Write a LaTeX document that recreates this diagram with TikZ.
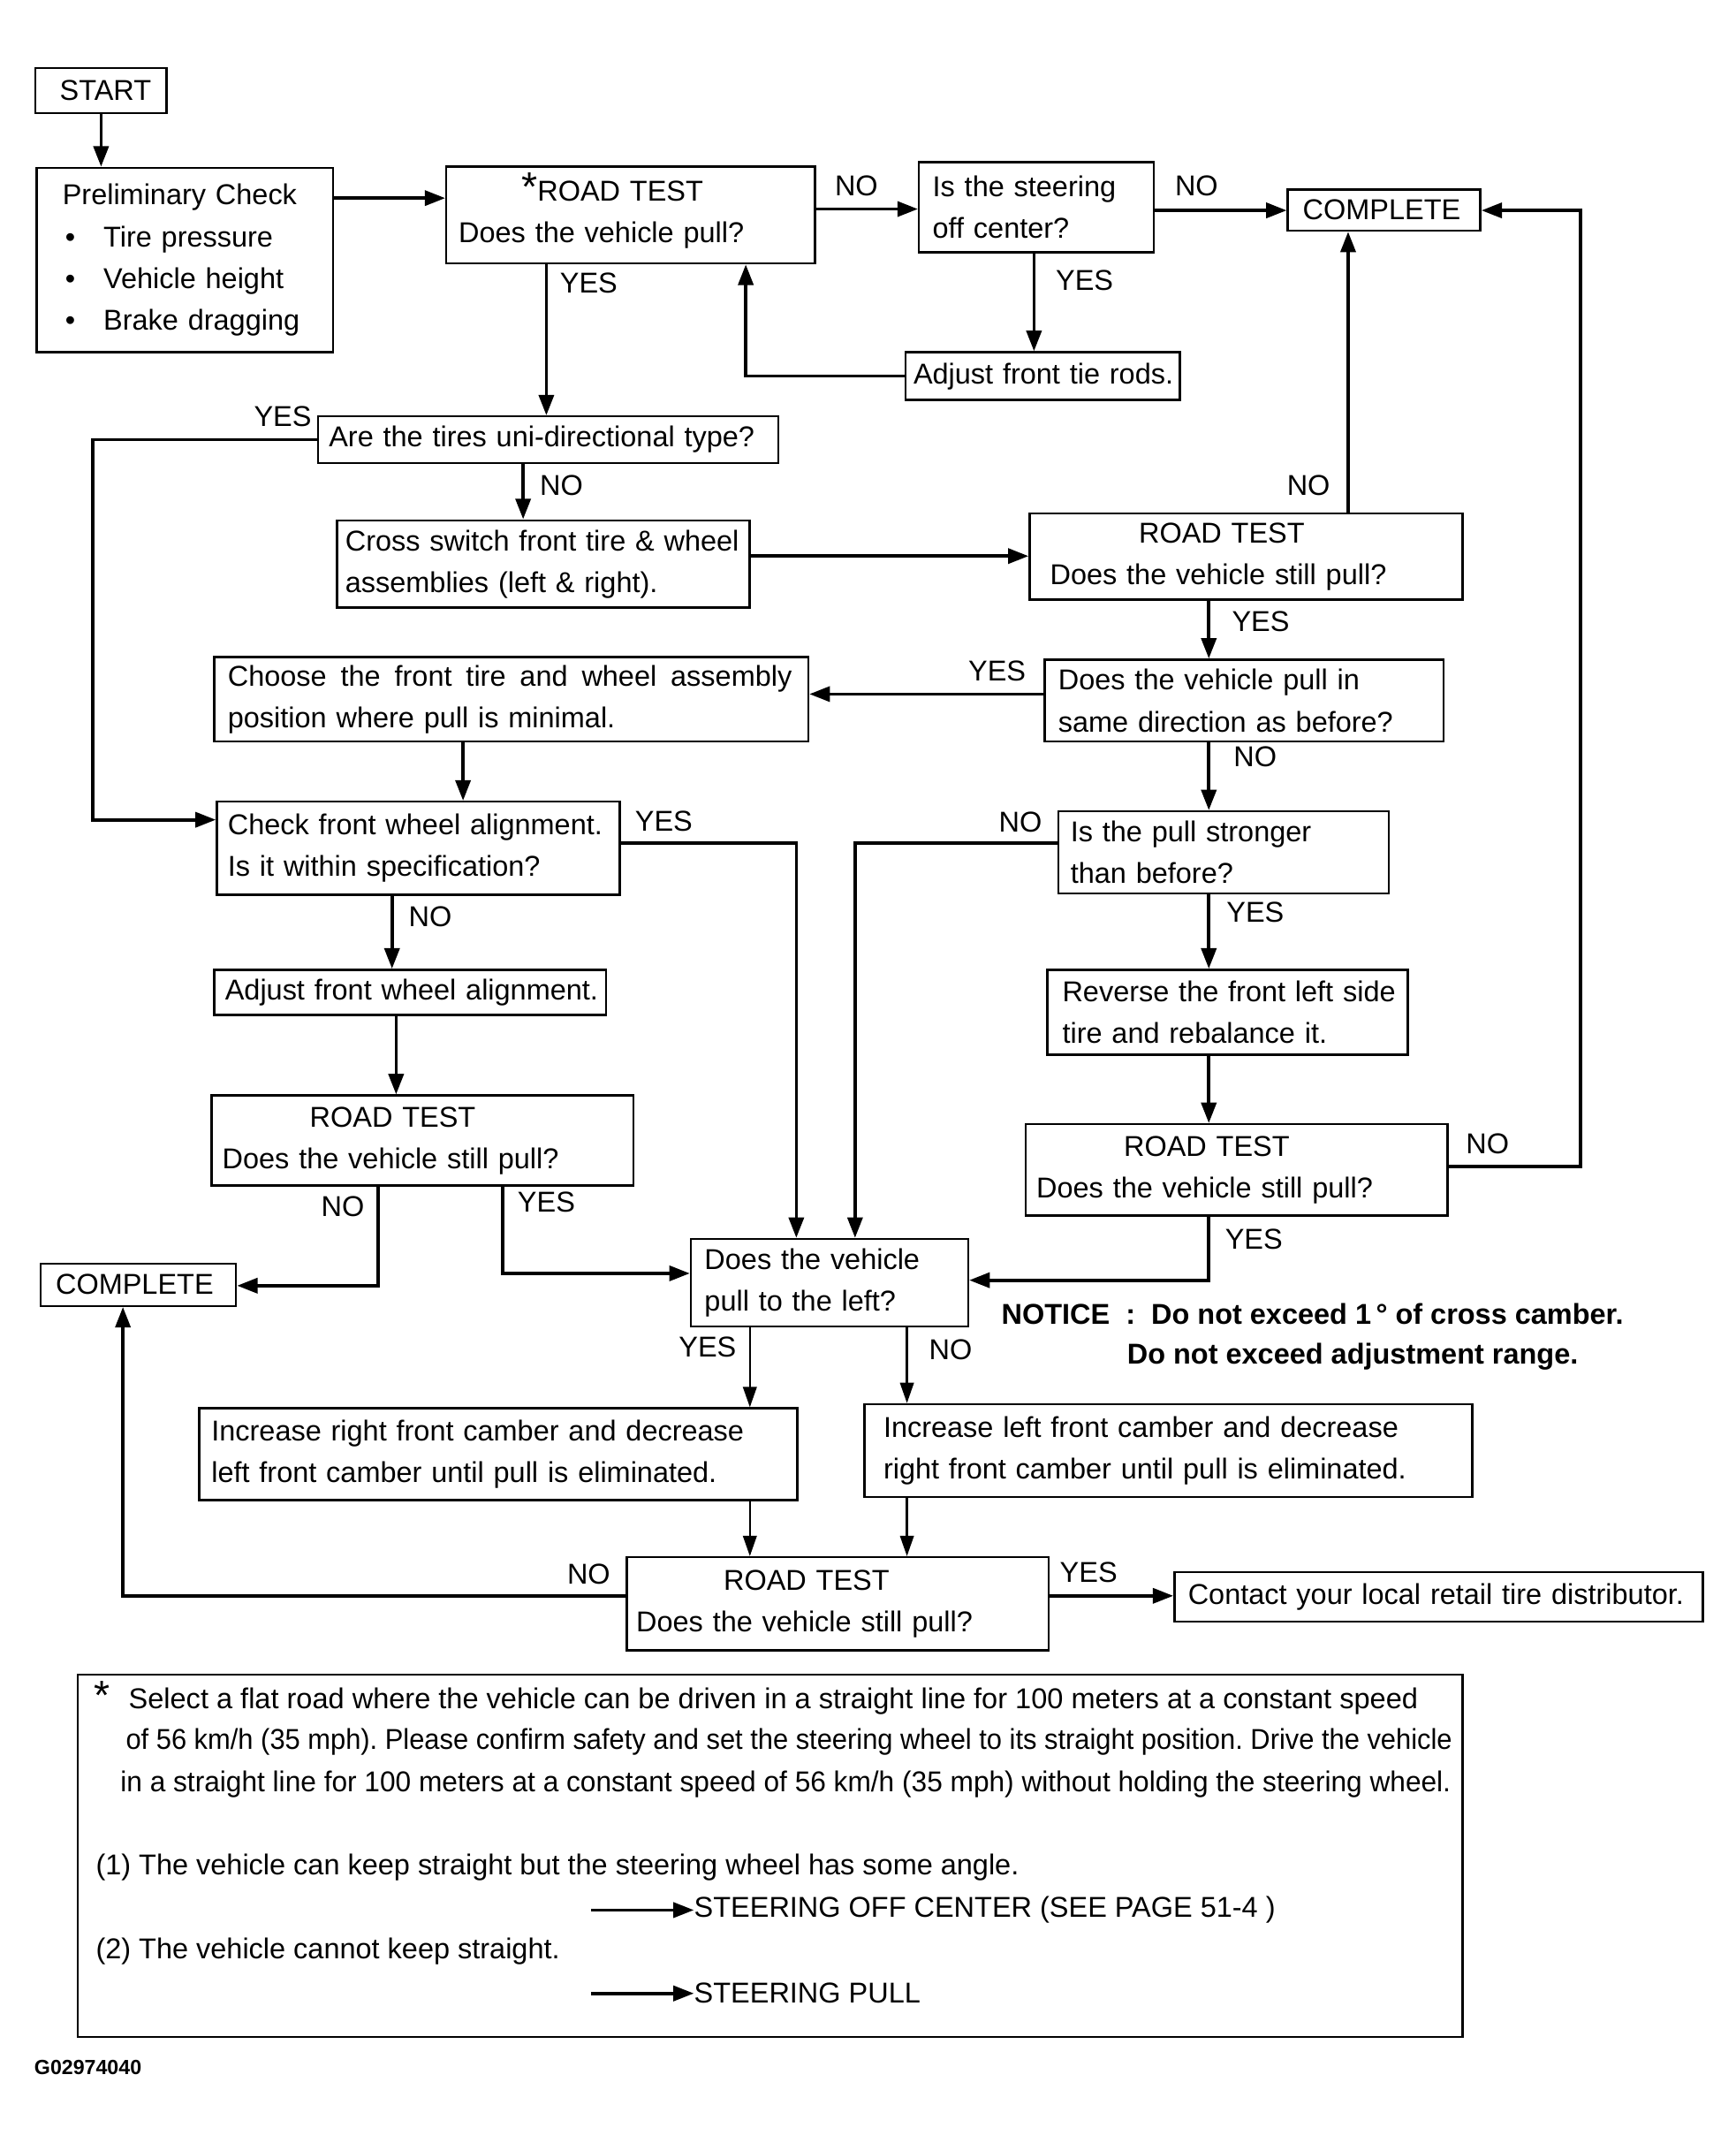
\documentclass[tikz,border=0pt]{standalone}
\usepackage{fontspec}
\usepackage{graphicx}
\setmainfont{Liberation Sans}
\usetikzlibrary{arrows.meta}
\frenchspacing

\newcommand\boxfont{\fontsize{21}{30.5}\selectfont}
\newcommand\starfont{\fontsize{30}{30}\selectfont}
\newcommand\codefont{\fontsize{15}{18}\selectfont\bfseries}

\tikzset{
  box/.style={draw, line width=1.6pt, anchor=north west, align=left, inner ysep=0pt, font=\boxfont},
  txt/.style={anchor=west, inner sep=0pt, font=\boxfont},
  lbl/.style={inner sep=0pt, font=\boxfont},
  arr/.style={line width=2.4pt, -{Triangle[length=15pt,width=11pt]}},
  thinarr/.style={line width=1.6pt, -{Triangle[length=15pt,width=10pt]}},
  ln/.style={line width=2.4pt}
}

\begin{document}
\begin{tikzpicture}[x=1pt,y=-1pt]
\useasboundingbox (0,0) rectangle (1270.7,1568.5);

% Boxes of the flow chart
\node[box, text width=60pt, inner xsep=18pt, minimum height=33pt] (start) at (25,49) {\mbox{START}};
\node[box, text width=179pt, inner xsep=19pt, minimum height=135pt] (prelim) at (26,122)
  {Preliminary Check\\
   \makebox[30pt][l]{\hspace{2pt}•}Tire pressure\\
   \makebox[30pt][l]{\hspace{2pt}•}Vehicle height\\
   \makebox[30pt][l]{\hspace{2pt}•}Brake dragging};
\node[box, text width=252pt, inner xsep=9pt, minimum height=71pt] (road1) at (326,121)
  {\hspace*{46pt}\smash{\starfont *}ROAD TEST\\Does the vehicle pull?};
\node[box, text width=152pt, inner xsep=10pt, minimum height=66pt] (steer) at (672,118)
  {Is the steering\\off center?};
\node[box, text width=119pt, inner xsep=11pt, minimum height=30pt] (done1) at (942,138) {\mbox{COMPLETE}};
\node[box, text width=189pt, inner xsep=6pt, minimum height=35pt] (tierods) at (662,257)
  {\mbox{Adjust front tie rods.}};
\node[box, text width=321pt, inner xsep=8pt, minimum height=34pt] (unidir) at (232,304)
  {\mbox{Are the tires uni-directional type?}};
\node[box, text width=290pt, inner xsep=6pt, minimum height=64pt] (cross) at (246,380)
  {\mbox{Cross switch front tire \& wheel}\\assemblies (left \& right).};
\node[box, text width=287pt, inner xsep=15pt, minimum height=63pt] (road2) at (753,375)
  {\hspace*{65pt}ROAD TEST\\Does the vehicle still pull?};
\node[box, text width=415pt, inner xsep=10pt, minimum height=62pt] (choose) at (156,480)
  {\hbox to 413pt{Choose\hfill the\hfill front\hfill tire\hfill and\hfill wheel\hfill assembly}\\position where pull is minimal.};
\node[box, text width=272pt, inner xsep=10pt, minimum height=60pt] (samedir) at (764,482)
  {Does the vehicle pull in\\same direction as before?};
\node[box, text width=279pt, inner xsep=8pt, minimum height=68pt] (check) at (158,586)
  {\mbox{Check front wheel alignment.}\\Is it within specification?};
\node[box, text width=224pt, inner xsep=9pt, minimum height=60pt] (stronger) at (774,593)
  {Is the pull stronger\\than before?};
\node[box, text width=271pt, inner xsep=8pt, minimum height=33pt] (adjalign) at (156,709)
  {\mbox{Adjust front wheel alignment.}};
\node[box, text width=242pt, inner xsep=11pt, minimum height=62pt] (reverse) at (766,709)
  {\mbox{Reverse the front left side}\\tire and rebalance it.};
\node[box, text width=293pt, inner xsep=8pt, minimum height=66pt] (road3) at (154,801)
  {\hspace*{64pt}ROAD TEST\\Does the vehicle still pull?};
\node[box, text width=293pt, inner xsep=8pt, minimum height=67pt] (road4) at (750,822)
  {\hspace*{64pt}ROAD TEST\\Does the vehicle still pull?};
\node[box, text width=121pt, inner xsep=11pt, minimum height=31pt] (done2) at (29,924) {\mbox{COMPLETE}};
\node[box, text width=183pt, inner xsep=10pt, minimum height=64pt] (left) at (505,906)
  {Does the vehicle\\pull to the left?};
\node[box, text width=420pt, inner xsep=9pt, minimum height=67pt] (incright) at (145,1030)
  {Increase right front camber and decrease\\left front camber until pull is eliminated.};
\node[box, text width=417pt, inner xsep=14pt, minimum height=68pt] (incleft) at (632,1027)
  {Increase left front camber and decrease\\right front camber until pull is eliminated.};
\node[box, text width=295pt, inner xsep=7pt, minimum height=68pt] (road5) at (458,1139)
  {\hspace*{64pt}ROAD TEST\\Does the vehicle still pull?};
\node[box, text width=367pt, inner xsep=10pt, minimum height=36pt] (contact) at (859,1150)
  {\mbox{Contact your local retail tire distributor.}};

% Notice
\node[txt, font=\boxfont\bfseries] (notice1) at (733,962) {NOTICE\ \ :\ \ Do not exceed 1\,° of cross camber.};
\node[txt, font=\boxfont\bfseries] (notice2) at (825,993) {Do not exceed adjustment range.};

% Connectors
\draw[arr] (74,0 |- start.south) -- (74,0 |- prelim.north);
\draw[arr] (prelim.east |- 0,145) -- (road1.west |- 0,145);
\draw[arr] (road1.east |- 0,153) -- (steer.west |- 0,153);
\draw[arr] (steer.east |- 0,154) -- (done1.west |- 0,154);
\draw[arr] (757,0 |- steer.south) -- (757,0 |- tierods.north);
\draw[arr] (tierods.west) -| (546,0 |- road1.south);
\draw[arr] (400,0 |- road1.south) -- (400,0 |- unidir.north);
\draw[arr] (unidir.west) -| (68,600) -- (check.west |- 0,600);
\draw[arr] (383,0 |- unidir.south) -- (383,0 |- cross.north);
\draw[arr] (cross.east |- 0,407) -- (road2.west |- 0,407);
\draw[arr] (987,0 |- road2.north) -- (987,0 |- done1.south);
\draw[arr] (885,0 |- road2.south) -- (885,0 |- samedir.north);
\draw[arr] (samedir.west |- 0,508) -- (choose.east |- 0,508);
\draw[arr] (339,0 |- choose.south) -- (339,0 |- check.north);
\draw[arr] (885,0 |- samedir.south) -- (885,0 |- stronger.north);
\draw[arr] (check.east |- 0,617) -| (583,0 |- left.north);
\draw[arr] (287,0 |- check.south) -- (287,0 |- adjalign.north);
\draw[arr] (stronger.west |- 0,617) -| (626,0 |- left.north);
\draw[arr] (885,0 |- stronger.south) -- (885,0 |- reverse.north);
\draw[arr] (290,0 |- adjalign.south) -- (290,0 |- road3.north);
\draw[arr] (885,0 |- reverse.south) -- (885,0 |- road4.north);
\draw[arr] (road4.east |- 0,854) -| (1157,154) -- (done1.east |- 0,154);
\draw[arr] (885,0 |- road4.south) |- (left.east |- 0,937);
\draw[arr] (277,0 |- road3.south) |- (done2.east |- 0,941);
\draw[arr] (368,0 |- road3.south) |- (left.west |- 0,932);
\draw[thinarr] (549,0 |- left.south) -- (549,0 |- incright.north);
\draw[thinarr] (664,0 |- left.south) -- (664,0 |- incleft.north);
\draw[thinarr] (549,0 |- incright.south) -- (549,0 |- road5.north);
\draw[thinarr] (664,0 |- incleft.south) -- (664,0 |- road5.north);
\draw[arr] (road5.west |- 0,1168) -| (90,0 |- done2.south);
\draw[arr] (road5.east |- 0,1168) -- (contact.west |- 0,1168);

% YES / NO labels
\node[lbl] (n1) at (627,136) {NO};
\node[lbl] (n2) at (876,136) {NO};
\node[lbl] (y1) at (794,205) {YES};
\node[lbl] (y2) at (431,207) {YES};
\node[lbl] (y3) at (207,305) {YES};
\node[lbl] (n3) at (411,355) {NO};
\node[lbl] (n4) at (958,355) {NO};
\node[lbl] (y4) at (923,455) {YES};
\node[lbl] (y5) at (730,491) {YES};
\node[lbl] (n5) at (919,554) {NO};
\node[lbl] (y6) at (486,601) {YES};
\node[lbl] (n6) at (747,602) {NO};
\node[lbl] (n7) at (315,671) {NO};
\node[lbl] (y7) at (919,668) {YES};
\node[lbl] (n8) at (1089,837) {NO};
\node[lbl] (n9) at (251,883) {NO};
\node[lbl] (y8) at (400,880) {YES};
\node[lbl] (y9) at (918,907) {YES};
\node[lbl] (y10) at (518,986) {YES};
\node[lbl] (n10) at (696,988) {NO};
\node[lbl] (n11) at (431,1152) {NO};
\node[lbl] (y11) at (797,1151) {YES};

% Note on the road test
\node[draw, line width=1.6pt, anchor=north west, inner sep=0pt, minimum width=1014pt, minimum height=265pt] (notes) at (56,1225) {};
\node[txt, font=\starfont] (star) at (69,1241) {*};
\node[txt] (l1) at (94,1245) {\resizebox{944pt}{\height}{Select a flat road where the vehicle can be driven in a straight line for 100 meters at a constant speed}};
\node[txt] (l2) at (92,1275) {\resizebox{971pt}{\height}{of 56 km/h (35 mph). Please confirm safety and set the steering wheel to its straight position. Drive the vehicle}};
\node[txt] (l3) at (88,1306) {\resizebox{974pt}{\height}{in a straight line for 100 meters at a constant speed of 56 km/h (35 mph) without holding the steering wheel.}};
\node[txt] (l4) at (70,1367) {(1) The vehicle can keep straight but the steering wheel has some angle.};
\node[txt] (l5) at (508,1398) {STEERING OFF CENTER (SEE PAGE 51-4 )};
\node[txt] (l6) at (70,1428) {(2) The vehicle cannot keep straight.};
\node[txt] (l7) at (508,1459) {STEERING PULL};
\coordinate (a1) at (433,1398);
\coordinate (a2) at (433,1459);
\draw[arr] (a1) -- (l5.west);
\draw[arr] (a2) -- (l7.west);

\node[anchor=west, inner sep=0pt, font=\codefont] (code) at (25,1513) {G02974040};
\end{tikzpicture}
\end{document}
